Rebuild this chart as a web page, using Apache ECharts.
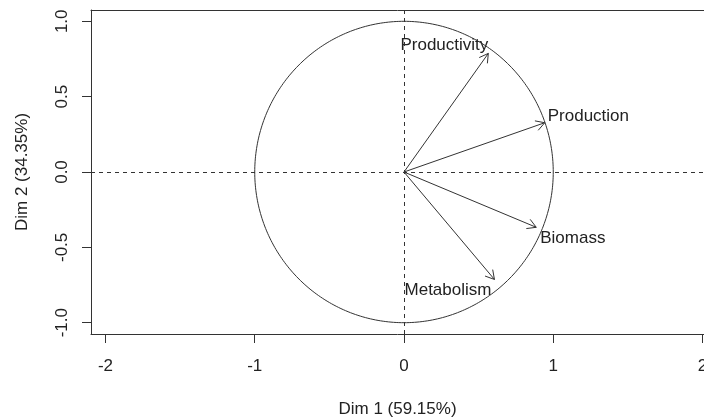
<!DOCTYPE html>
<html>
<head>
<meta charset="utf-8">
<script src="https://cdn.jsdelivr.net/npm/echarts@6/dist/echarts.min.js"></script>
<style>
html,body{margin:0;padding:0;background:#fff}
#main{width:704px;height:417px}
</style>
</head>
<body>
<div id="main"></div>
<script>
// 变量坐标 (Dim 1 / Dim 2)
var varNames = ['Productivity', 'Production', 'Biomass', 'Metabolism'];
var dim1 = [0.565, 0.943, 0.886, 0.606];
var dim2 = [0.787, 0.327, -0.367, -0.713];

// 刻度
var xTicks = [-2, -1, 0, 1, 2];
var yTicks = [-1, -0.5, 0, 0.5, 1];
var xTitle = 'Dim 1 (59.15%)';
var yTitle = 'Dim 2 (34.35%)';

// 标签相对箭头的位置
var labelPos = {
    Productivity: {align: 'right', dx: 0, dy: -8},
    Production: {align: 'left', dx: 3, dy: -6},
    Biomass: {align: 'left', dx: 4, dy: 11},
    Metabolism: {align: 'right', dx: -3, dy: 11}
};

var fontFamily = '"Liberation Sans", Arial, sans-serif';
var fontSize = 17;
var ink = '#333';

// 单位圆
var circle = [];
for (var i = 0; i <= 360; i++) {
    var a = i * Math.PI / 180;
    circle.push([Math.cos(a), Math.sin(a)]);
}

var arrowData = varNames.map(function (n, k) { return [dim1[k], dim2[k]]; });

function renderArrow(params, api) {
    var o = api.coord([0, 0]);
    var p = api.coord([api.value(0), api.value(1)]);
    var ang = Math.atan2(p[1] - o[1], p[0] - o[0]);
    var len = 10, spread = Math.PI / 6;
    var h1 = [p[0] - len * Math.cos(ang - spread), p[1] - len * Math.sin(ang - spread)];
    var h2 = [p[0] - len * Math.cos(ang + spread), p[1] - len * Math.sin(ang + spread)];
    var name = varNames[params.dataIndex];
    var lp = labelPos[name];
    return {
        type: 'group',
        children: [
            {type: 'line', shape: {x1: o[0], y1: o[1], x2: p[0], y2: p[1]}, style: {stroke: ink, lineWidth: 1}},
            {type: 'polyline', shape: {points: [h1, p, h2]}, style: {stroke: ink, lineWidth: 1, fill: null}},
            {type: 'text', x: p[0] + lp.dx, y: p[1] + lp.dy,
                style: {text: name, align: lp.align, verticalAlign: 'middle', fontSize: fontSize, fontFamily: fontFamily, fill: '#222'}}
        ]
    };
}

var myChart = echarts.init(document.getElementById('main'), null, {renderer: 'canvas'});
var option = {
    animation: false,
    backgroundColor: '#fff',
    grid: {left: 91, top: 10, bottom: 83, right: 0, show: false, containLabel: false, outerBoundsMode: 'none'},
    xAxis: [{
        type: 'value', min: -2.097, max: 2.01, position: 'bottom',
        name: xTitle, nameLocation: 'middle', nameGap: 67,
        nameTextStyle: {fontSize: fontSize, fontFamily: fontFamily, color: '#222'},
        axisLine: {show: true, onZero: false, lineStyle: {color: ink}},
        splitLine: {show: false},
        axisTick: {show: true, length: 9, customValues: xTicks, lineStyle: {color: ink}},
        axisLabel: {customValues: xTicks, margin: 24, fontSize: fontSize, fontFamily: fontFamily, color: '#222',
            formatter: function (v) { return String(v); }}
    }, {
        // 顶部边框
        type: 'value', min: -2.097, max: 2.01, position: 'top',
        axisLine: {show: true, onZero: false, lineStyle: {color: ink}},
        axisTick: {show: false}, axisLabel: {show: false}, splitLine: {show: false}
    }],
    yAxis: {
        type: 'value', min: -1.075, max: 1.075,
        name: yTitle, nameLocation: 'middle', nameGap: 60, nameRotate: 90,
        nameTextStyle: {fontSize: fontSize, fontFamily: fontFamily, color: '#222'},
        axisLine: {show: true, onZero: false, lineStyle: {color: ink}},
        splitLine: {show: false},
        axisTick: {show: true, length: 9, customValues: yTicks, lineStyle: {color: ink}},
        axisLabel: {customValues: yTicks, margin: 20, rotate: 90, fontSize: fontSize, fontFamily: fontFamily, color: '#222',
            formatter: function (v) { return v.toFixed(1); }}
    },
    series: [
        {
            type: 'line', data: circle, showSymbol: false, smooth: false,
            lineStyle: {color: ink, width: 1},
            markLine: {
                silent: true, symbol: 'none', label: {show: false},
                lineStyle: {color: ink, width: 1, type: [4, 4]},
                data: [{xAxis: 0}, {yAxis: 0}]
            }
        },
        {
            type: 'custom', data: arrowData, renderItem: renderArrow
        }
    ]
};
myChart.setOption(option);
</script>
</body>
</html>
